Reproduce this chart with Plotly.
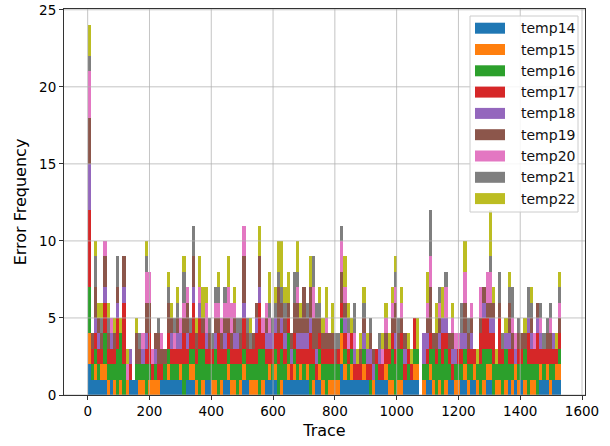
import numpy as np
import plotly.graph_objects as go

# ---- data: error counts per trace bin, one list per series (150 bins over 0..1533) ----
TRACE_MIN = 0
TRACE_MAX = 1533
N_BINS = 150

series_names = ["temp14", "temp15", "temp16", "temp17", "temp18",
                "temp19", "temp20", "temp21", "temp22"]

temp14 = [2,1,1,1,1,1,0,1,0,0, 0,0,0,1,1,1,0,0,0,0, 0,0,0,1,1,1,1,1,1,1,
          0,1,1,1,0,0,0,1,1,0, 0,0,0,1,1,0,0,0,0,1, 1,0,0,0,0,0,1,1,1,1,
          0,0,1,1,1,1,1,1,1,1, 0,0,1,1,0,0,0,0,0,0, 2,1,1,1,1,1,1,1,1,0,
          0,1,1,1,1,0,0,0,0,0, 1,1,1,1,1,0,0,1,1,0, 0,0,0,0,1,1,0,0,1,1,
          0,1,1,0,0,0,1,1,0,0, 0,0,0,1,0,1,0,1,0,0, 0,0,0,1,1,1,0,1,1,1]
temp15 = [2,0,1,0,1,1,1,0,1,0, 1,0,1,0,0,0,1,1,0,1, 1,1,1,0,0,1,0,0,0,1,
          0,0,1,1,1,0,1,0,0,1, 1,0,1,0,1,1,1,0,1,1, 0,1,1,1,0,1,0,1,0,1,
          0,1,0,1,0,1,0,1,0,1, 0,1,0,1,1,0,1,1,1,1, 2,1,0,1,0,0,0,1,0,0,
          1,0,0,0,1,1,1,0,1,1, 0,0,0,1,1,0,1,0,1,1, 0,1,0,1,0,0,1,1,0,1,
          1,0,1,1,0,1,1,1,0,1, 1,0,1,0,1,1,1,0,1,0, 1,1,0,1,0,1,1,0,1,1]
temp16 = [3,1,1,1,0,2,1,1,1,3, 3,2,0,0,0,1,1,1,2,1, 0,1,0,0,1,1,1,1,1,0,
          2,1,1,1,1,3,2,1,1,1, 2,2,1,1,1,1,1,2,1,1, 1,1,1,1,3,2,1,0,1,1,
          2,2,1,2,0,1,1,0,1,0, 2,1,0,1,1,2,1,1,1,1, 1,1,1,1,0,0,0,1,0,1,
          0,1,0,0,0,1,2,2,2,2, 0,1,0,1,1,0,1,1,1,2, 2,2,2,2,1,0,1,1,1,1,
          1,1,0,1,2,2,1,1,2,1, 1,2,2,1,1,0,1,1,2,2, 1,1,2,0,1,0,1,1,0,1]
temp17 = [5,1,1,1,1,2,1,1,1,2, 0,4,0,1,0,0,0,0,1,2, 1,0,1,1,0,1,1,1,1,1,
          2,1,1,3,1,2,1,1,1,1, 0,2,1,1,1,1,1,1,1,2, 1,1,1,2,3,1,1,1,1,1,
          2,1,1,1,1,1,1,1,1,1, 2,1,1,1,1,1,1,1,0,1, 1,1,1,1,1,1,1,0,1,1,
          0,1,1,1,1,1,1,1,0,1, 1,1,1,2,0,0,0,1,1,0, 1,0,2,1,1,1,0,1,1,0,
          1,1,1,0,2,2,2,1,2,0, 3,1,0,1,1,0,1,1,0,2, 1,1,2,1,1,1,1,1,1,1]
temp18 = [3,0,1,1,0,1,0,1,0,1, 0,1,0,1,0,0,0,1,1,0, 0,1,0,0,0,0,1,0,1,1,
          0,1,0,1,0,1,0,1,0,0, 1,0,0,1,0,0,1,1,0,1, 0,0,0,1,1,0,1,1,1,1,
          0,1,1,0,1,0,1,1,1,1, 1,0,1,0,0,0,0,0,0,0, 0,1,0,0,1,0,0,1,1,1,
          1,0,1,0,0,0,0,1,0,0, 1,0,0,0,0,0,2,1,0,0, 0,1,1,1,0,1,1,0,1,1,
          0,1,0,0,0,1,0,1,1,0, 0,0,1,1,0,1,0,0,0,1, 1,0,1,1,0,0,0,1,0,0]
temp19 = [3,1,2,1,1,2,1,0,1,1, 0,2,0,0,0,2,1,0,2,2, 0,1,2,1,1,2,1,0,1,0,
          1,2,0,2,1,0,1,0,1,0, 1,1,1,1,1,1,1,0,1,3, 1,0,1,1,2,0,1,0,0,0,
          3,1,1,1,1,2,2,1,3,1, 2,2,2,1,1,1,1,1,1,0, 2,1,0,0,0,0,1,1,0,1,
          1,0,0,0,1,0,1,2,1,1, 1,0,0,0,0,0,0,1,3,1, 1,1,0,0,1,1,0,0,0,2,
          1,1,0,0,1,1,1,1,1,0, 1,0,0,2,1,0,1,1,1,0, 1,0,1,0,0,1,1,0,0,1]
temp20 = [3,0,0,0,0,1,0,1,0,0, 0,0,1,0,0,0,0,1,2,2, 1,0,0,1,0,0,0,1,0,1,
          1,1,0,0,0,1,0,2,0,0, 1,1,1,1,2,2,1,0,0,2, 0,0,0,0,0,1,1,1,0,0,
          0,0,0,0,0,0,1,0,0,0, 0,2,0,0,0,1,0,0,0,0, 2,1,1,0,1,0,0,0,0,0,
          0,0,0,1,1,0,1,1,0,1, 0,0,0,0,0,0,0,1,2,0, 0,1,0,2,0,1,1,1,0,2,
          0,1,0,0,2,0,2,2,0,0, 0,0,0,0,1,1,0,0,0,0, 0,1,0,1,0,0,1,0,0,1]
temp21 = [1,0,2,0,1,0,1,0,0,2, 0,0,0,0,0,0,1,0,1,0, 0,0,1,0,0,1,0,1,1,0,
          2,0,1,2,0,0,0,0,1,1, 1,1,0,1,0,0,0,1,1,0, 1,1,0,0,0,0,0,1,1,1,
          1,1,1,0,0,2,1,0,0,1, 0,2,1,1,0,0,0,0,1,1, 1,0,1,0,2,0,0,1,0,1,
          0,0,1,0,0,0,0,1,1,0, 0,0,0,0,0,0,0,0,3,0, 0,1,0,1,0,0,0,0,2,0,
          1,0,0,0,0,0,0,1,0,0, 2,1,0,1,2,0,1,0,0,2, 1,0,0,1,1,1,1,0,0,1]
temp22 = [2,0,1,1,1,0,1,0,1,0, 1,0,1,0,0,1,0,0,1,0, 0,0,0,0,0,1,1,0,1,0,
          1,0,0,0,1,2,2,1,0,0, 0,1,0,0,2,0,1,0,0,0, 0,1,0,0,2,0,0,2,0,1,
          2,3,1,2,0,0,2,1,0,0, 2,0,0,1,1,2,0,2,0,0, 0,2,1,1,0,1,1,1,1,0,
          0,0,0,1,1,1,1,1,0,1, 0,1,1,0,2,0,0,2,0,0, 2,0,2,0,0,1,0,0,0,2,
          0,0,0,1,0,0,0,3,1,1, 0,0,1,1,0,0,0,0,1,0, 1,0,0,0,0,0,0,0,1,1]

series_values = [temp14, temp15, temp16, temp17, temp18,
                 temp19, temp20, temp21, temp22]

x_ticks = [0, 200, 400, 600, 800, 1000, 1200, 1400, 1600]
y_ticks = [0, 5, 10, 15, 20, 25]

colors = ["#1f77b4", "#ff7f0e", "#2ca02c", "#d62728", "#9467bd",
          "#8c564b", "#e377c2", "#7f7f7f", "#bcbd22"]

# ---- bins ----
edges = np.linspace(TRACE_MIN, TRACE_MAX, N_BINS + 1)
centers = (edges[:-1] + edges[1:]) / 2
bw = edges[1] - edges[0]

fig = go.Figure()
for name, vals, col in zip(series_names, series_values, colors):
    fig.add_trace(go.Bar(
        x=centers, y=vals, width=bw, name=name, showlegend=False,
        marker=dict(color=col, line=dict(width=0)),
    ))

span = TRACE_MAX - TRACE_MIN
xr = [TRACE_MIN - 0.05 * span, TRACE_MAX + 0.05 * span]
yr = [0, 25.05]

font = "DejaVu Sans, Verdana, sans-serif"

# ---- figure geometry (pixels) ----
W, H = 610, 446
ML, MR, MT, MB = 64, 25, 9, 51
PW, PH = W - ML - MR, H - MT - MB


def px_x(p):
    return (p - ML) / PW


def px_y(p):
    return (H - MB - p) / PH


# grid drawn above bars (as matplotlib does)
shapes = []
for t in x_ticks:
    shapes.append(dict(type="line", xref="x", yref="paper", x0=t, x1=t, y0=0, y1=1,
                       line=dict(color="rgba(176,176,176,0.75)", width=1), layer="above"))
for t in y_ticks:
    shapes.append(dict(type="line", xref="paper", yref="y", x0=0, x1=1, y0=t, y1=t,
                       line=dict(color="rgba(176,176,176,0.75)", width=1), layer="above"))

# matplotlib-style legend box with wide colour patches
annotations = []
shapes.append(dict(type="rect", xref="paper", yref="paper",
                   x0=px_x(470), x1=px_x(578), y0=px_y(212), y1=px_y(16),
                   fillcolor="rgba(255,255,255,0.85)",
                   line=dict(color="#cccccc", width=1), layer="above"))
row0, row_step = 28.2, 21.3
for i, (name, col) in enumerate(zip(series_names, colors)):
    cy = row0 + i * row_step
    shapes.append(dict(type="rect", xref="paper", yref="paper",
                       x0=px_x(475), x1=px_x(505), y0=px_y(cy + 5.5), y1=px_y(cy - 5.5),
                       fillcolor=col, line=dict(width=0), layer="above"))
    annotations.append(dict(xref="paper", yref="paper", x=px_x(519), y=px_y(cy),
                            text=name, showarrow=False, xanchor="left", yanchor="middle",
                            font=dict(family=font, size=14, color="#111")))

fig.update_layout(
    width=W, height=H,
    margin=dict(l=ML, r=MR, t=MT, b=MB),
    barmode="stack", bargap=0,
    paper_bgcolor="white", plot_bgcolor="white",
    font=dict(family=font, color="black", size=13.5),
    shapes=shapes,
    annotations=annotations,
    showlegend=False,
    xaxis=dict(
        range=xr, tickmode="array", tickvals=x_ticks,
        ticktext=[str(t) for t in x_ticks],
        showgrid=False, zeroline=False, automargin=False,
        showline=True, mirror=True, linecolor="#333333", linewidth=1,
        ticks="outside", ticklen=4, tickcolor="#333333",
        title=dict(text="Trace", font=dict(size=16), standoff=6),
        tickfont=dict(size=13.5),
    ),
    yaxis=dict(
        range=yr, tickmode="array", tickvals=y_ticks,
        ticktext=[str(t) for t in y_ticks],
        showgrid=False, zeroline=False, automargin=False,
        showline=True, mirror=True, linecolor="#333333", linewidth=1,
        ticks="outside", ticklen=4, tickcolor="#333333",
        title=dict(text="Error Frequency", font=dict(size=16), standoff=8),
        tickfont=dict(size=13.5),
    ),
)

fig.write_html(
    "out.html",
    config={"displayModeBar": False},
    post_script="document.body.style.margin='0';document.body.style.padding='0';"
                "document.body.style.overflow='hidden';",
)
